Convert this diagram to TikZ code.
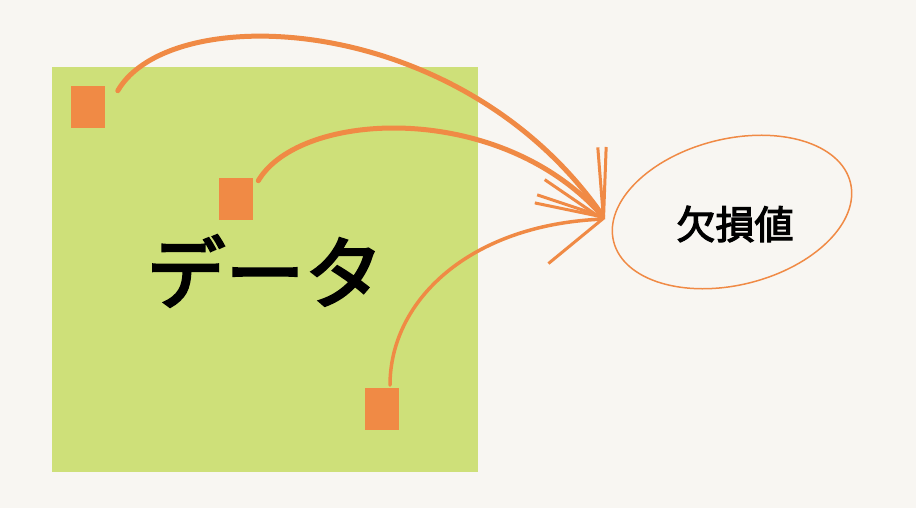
\documentclass[tikz,border=0pt]{standalone}
\usepackage{fontspec}
\newfontfamily\jpfont{Noto Sans CJK JP}[FakeBold=3]
\usetikzlibrary{arrows.meta,shapes.geometric,calc}
\definecolor{paper}{HTML}{F8F6F2}
\definecolor{leaf}{HTML}{CEE079}
\definecolor{carrot}{HTML}{F08A45}

\begin{document}
\begin{tikzpicture}[x=1pt,y=-1pt,>={Straight Barb[length=56pt,width=84pt,line width=3pt]},semithick]
\tikzstyle{cell}=[fill=carrot,draw=none,minimum width=34pt,minimum height=42pt,inner sep=0pt]
\tikzstyle{link}=[->,draw=carrot,line width=5pt,line cap=round]

\fill[paper] (0,0) rectangle (916,508);
\useasboundingbox (0,0) rectangle (916,508);

\node[fill=leaf,minimum width=426pt,minimum height=405pt,inner sep=0pt] (data) at (265,269.5) {};
\node[font=\jpfont\fontsize{79}{90}\selectfont] (title) at (265,271) {データ};

\node[cell] (m1) at (87.5,107) {};
\node[cell] (m2) at (236,199) {};
\node[cell] (m3) at (382,408.5) {};

\node[ellipse,draw=carrot,line width=1.5pt,minimum width=244pt,minimum height=146pt,rotate=14] (miss) at (732,212) {};
\node[font=\jpfont\fontsize{39}{44}\selectfont] (misslabel) at (735,224) {欠損値};
\coordinate (tip) at (605,219);

\draw[link] ($(m1.north east)+(13,5)$) .. controls (170,0) and (460,10) .. (tip);
\draw[link] ($(m2.north east)+(5,3)$) .. controls (300,110) and (500,100) .. (tip);
\draw[link,line width=3.5pt] ($(m3.north)+(8,-2)$) .. controls (390,300) and (470,225) .. (tip);
\end{tikzpicture}
\end{document}
